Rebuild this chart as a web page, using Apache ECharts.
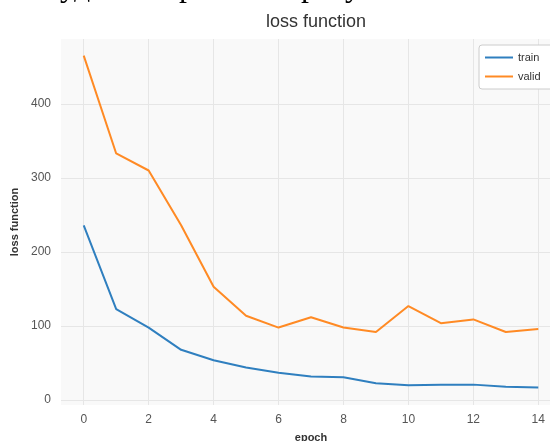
<!DOCTYPE html>
<html>
<head>
<meta charset="utf-8">
<script src="https://cdn.jsdelivr.net/npm/echarts@6/dist/echarts.min.js"></script>
<style>
html,body{margin:0;padding:0;background:#fff;}
#chart{width:550px;height:441px;}
</style>
</head>
<body>
<div id="chart"></div>
<script>
var epochs = [0,1,2,3,4,5,6,7,8,9,10,11,12,13,14];
var trainLoss = [236,123,98,68,54,44,37,32,31,23,20,21,21,18,17];
var validLoss = [465,333,310,236,153,114,98,112,98,92,127,104,109,92,96];
var xTicks = [0,2,4,6,8,10,12,14];
var yTicks = [0,100,200,300,400];

var chart = echarts.init(document.getElementById('chart'), null, {renderer:'canvas'});
function pairs(ys){ return epochs.map(function(x,i){ return [x, ys[i]]; }); }
var serifFont = '32px "Liberation Serif", "DejaVu Serif", serif';
var option = {
  animation:false,
  backgroundColor:'#ffffff',
  title:{
    text:'loss function',
    left:311, top:8, textAlign:'center',
    textStyle:{fontFamily:'"Liberation Sans", Arial, sans-serif', fontSize:18, fontWeight:'normal', color:'#333333'}
  },
  graphic:[
    {type:'text', left:60, top:-28, style:{text:'уд', font:serifFont, fill:'#000'}},
    {type:'text', left:179, top:-28, style:{text:'р', font:serifFont, fill:'#000'}},
    {type:'text', left:301, top:-28, style:{text:'р', font:serifFont, fill:'#000'}},
    {type:'text', left:345, top:-28, style:{text:'у', font:serifFont, fill:'#000'}}
  ],
  legend:{
    orient:'vertical',
    left:479, top:45,
    backgroundColor:'#ffffff',
    borderColor:'#cccccc', borderWidth:1, borderRadius:3,
    padding:[7,40,7,6],
    itemWidth:28, itemHeight:2, itemGap:8,
    icon:'rect',
    textStyle:{fontFamily:'"Liberation Sans", Arial, sans-serif', fontSize:11, color:'#333333'},
    data:['train','valid']
  },
  grid:{
    left:61, top:39, width:500, height:366,
    outerBoundsMode:'none', containLabel:false,
    show:true, backgroundColor:'#f9f9f9', borderWidth:0
  },
  xAxis:{
    type:'value', min:-0.7, max:14.7,
    name:'epoch', nameLocation:'middle', nameGap:27,
    nameTextStyle:{fontFamily:'"Liberation Sans", Arial, sans-serif', fontSize:11, fontWeight:'bold', color:'#333333'},
    axisLine:{show:false},
    axisTick:{show:false, customValues:xTicks},
    axisLabel:{customValues:xTicks, color:'#555555', fontSize:12, margin:9, fontFamily:'"Liberation Sans", Arial, sans-serif'},
    splitLine:{show:true, lineStyle:{color:'#e6e6e6', width:1}}
  },
  yAxis:{
    type:'value', min:-6.5, max:487.5,
    name:'loss function', nameLocation:'middle', nameGap:37, nameRotate:90,
    nameTextStyle:{fontFamily:'"Liberation Sans", Arial, sans-serif', fontSize:11, fontWeight:'bold', color:'#333333'},
    axisLine:{show:false},
    axisTick:{show:false, customValues:yTicks},
    axisLabel:{customValues:yTicks, color:'#555555', fontSize:12, margin:10, fontFamily:'"Liberation Sans", Arial, sans-serif'},
    splitLine:{show:true, lineStyle:{color:'#e6e6e6', width:1}}
  },
  series:[
    {name:'train', type:'line', data:pairs(trainLoss), showSymbol:false, symbol:'none',
     lineStyle:{color:'#2f7fbf', width:2}, itemStyle:{color:'#2f7fbf'}},
    {name:'valid', type:'line', data:pairs(validLoss), showSymbol:false, symbol:'none',
     lineStyle:{color:'#ff8a24', width:2}, itemStyle:{color:'#ff8a24'}}
  ]
};
chart.setOption(option);
</script>
</body>
</html>
